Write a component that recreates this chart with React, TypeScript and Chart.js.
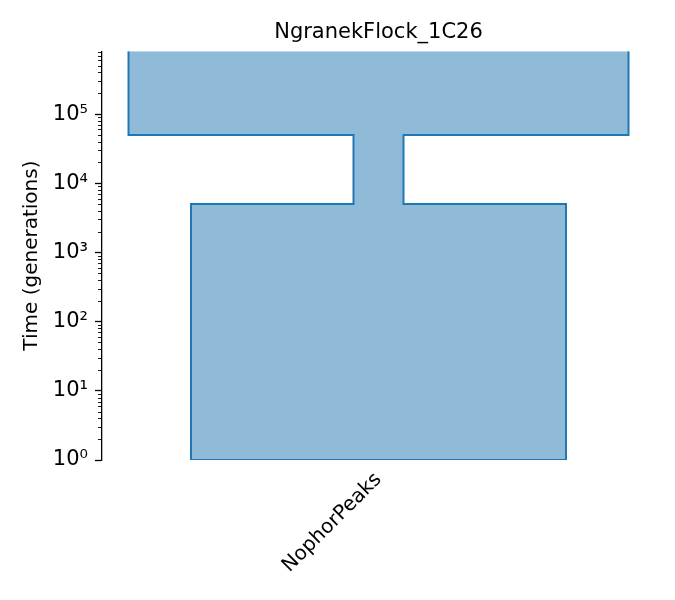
import React, { useEffect, useRef } from 'react';
import { Chart, registerables } from 'chart.js';

Chart.register(...registerables);

const title = 'NgranekFlock_1C26';
const demeName = 'NophorPeaks';
// epochs, oldest first: [start time, end time] in generations
const epochStart = [8.1e5, 5e4, 5e3];
const epochEnd = [5e4, 5e3, 1];
const epochSize = [10000, 1000, 7500];
const yTicks = [1, 10, 100, 1000, 10000, 100000];

const sup = '⁰¹²³⁴⁵⁶⁷⁸⁹';
const powLabel = (v: number) => '10' + String(Math.round(Math.log10(v))).split('').map(d => sup[+d]).join('');

// outline of the deme: down the left side, back up the right side
const buildOutline = () => {
  const left: { x: number; y: number }[] = [];
  const right: { x: number; y: number }[] = [];
  epochSize.forEach((s, i) => {
    left.push({ x: -s / 2, y: epochStart[i] }, { x: -s / 2, y: epochEnd[i] });
    right.unshift({ x: s / 2, y: epochEnd[i] }, { x: s / 2, y: epochStart[i] });
  });
  return [...left, ...right];
};

const minorTicks = {
  id: 'minorTicks',
  afterDraw(chart: Chart) {
    const y = chart.scales.y;
    const ctx = chart.ctx;
    ctx.save();
    ctx.strokeStyle = '#000';
    ctx.lineWidth = 0.9;
    for (let n = 0; n < 6; n++) {
      for (let k = 2; k < 10; k++) {
        const v = k * Math.pow(10, n);
        if (v > y.max) continue;
        const py = Math.round(y.getPixelForValue(v)) + 0.5;
        ctx.beginPath();
        ctx.moveTo(y.right, py);
        ctx.lineTo(y.right - 4, py);
        ctx.stroke();
      }
    }
    ctx.restore();
  }
};

const App: React.FC = () => {
  const canvasRef = useRef<HTMLCanvasElement>(null);

  useEffect(() => {
    if (!canvasRef.current) return;
    const font = { family: '"DejaVu Sans"', size: 20 };
    const chart = new Chart(canvasRef.current, {
      type: 'scatter',
      data: {
        datasets: [{
          data: buildOutline(),
          showLine: true,
          fill: 'shape',
          backgroundColor: 'rgba(31, 119, 180, 0.5)',
          borderColor: '#1f77b4',
          borderWidth: 2,
          pointRadius: 0,
          tension: 0
        }]
      },
      options: {
        animation: false,
        responsive: false,
        layout: { padding: { left: 0, right: 20, top: 0, bottom: 0 } },
        scales: {
          x: {
            type: 'linear',
            min: -5530,
            max: 5530,
            afterBuildTicks: (s: any) => { s.ticks = [{ value: 0 }]; },
            afterFit: (s: any) => { s.height = 140; },
            grid: { display: false },
            border: { display: false },
            ticks: {
              color: '#000',
              font,
              autoSkip: false,
              minRotation: 45,
              maxRotation: 45,
              padding: 0,
              callback: () => demeName
            }
          },
          y: {
            type: 'logarithmic',
            min: 1,
            max: epochStart[0],
            afterBuildTicks: (s: any) => { s.ticks = yTicks.map(v => ({ value: v })); },
            afterFit: (s: any) => { s.width = 102; },
            grid: { display: true, drawOnChartArea: false, color: 'rgba(0,0,0,0)', drawTicks: true, tickLength: 7, tickColor: '#000', tickWidth: 1.3 },
            border: { display: true, color: '#000', width: 1.3 },
            title: { display: true, text: 'Time (generations)', color: '#000', font, padding: { top: 20, bottom: 0 } },
            ticks: { color: '#000', font: { family: '"DejaVu Sans"', size: 21 }, padding: 7, callback: (v: any) => powLabel(Number(v)) }
          }
        },
        plugins: {
          legend: { display: false },
          tooltip: { enabled: false },
          title: {
            display: true,
            text: title,
            color: '#000',
            fullSize: false,
            font: { family: '"DejaVu Sans"', size: 21, weight: 'normal' },
            padding: { top: 20, bottom: 6 }
          }
        }
      },
      plugins: [minorTicks]
    });
    return () => chart.destroy();
  }, []);

  return (
    <div style={{ position: 'fixed', left: 0, top: 0, width: 675, height: 600, background: '#fff' }}>
      <canvas ref={canvasRef} width={675} height={600} />
    </div>
  );
};

export default App;
